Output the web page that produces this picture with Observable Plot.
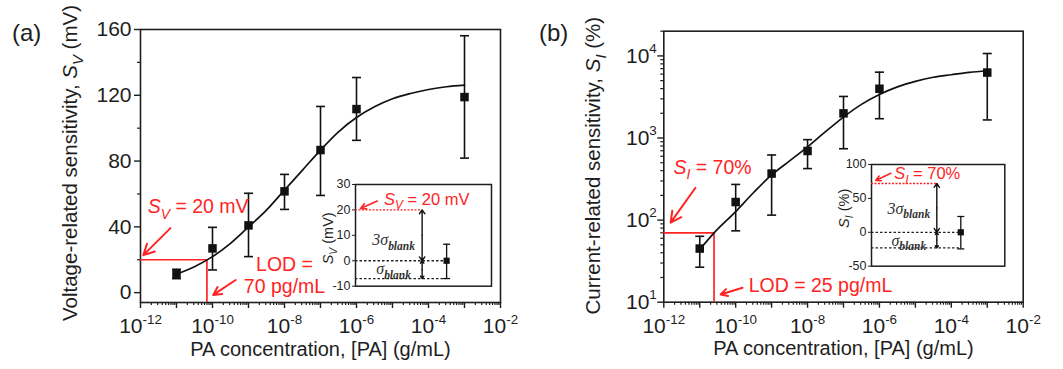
<!DOCTYPE html>
<html><head><meta charset="utf-8">
<script src="https://cdn.jsdelivr.net/npm/d3@7"></script>
<script src="https://cdn.jsdelivr.net/npm/@observablehq/plot@0.6"></script>
<style>
body{margin:0;background:#fff;}
#root{position:relative;width:1063px;height:369px;overflow:hidden;font-family:Arial,"Liberation Sans",sans-serif;color:#1e1e1e;}
#root svg{position:absolute;background:transparent !important;overflow:visible;}
.plabel{position:absolute;font-size:24px;line-height:1;color:#1e1e1e;}
</style></head><body><div id="root"></div>
<script>
// ---------------- data: panel (a) ----------------
const concA = [1e-11, 1e-10, 1e-9, 1e-8, 1e-7, 1e-6, 1e-3];
const svMeanA = [11.3, 26.9, 40.9, 61.6, 86.7, 111.6, 118.9];
const svLowA  = [8.5, 13.8, 21.9, 50.6, 59.1, 92.6, 81.8];
const svHighA = [14.2, 39.7, 60.4, 71.9, 113.2, 130.8, 156.2];
const fitLogConcA = [-11, -10.5, -10, -9.5, -9, -8.5, -8, -7.5, -7, -6.5, -6, -5.5, -5, -4.5, -4, -3.5, -3];
const fitSvA = [11.3, 15.8, 21.9, 30, 40, 50.2, 62.4, 74.5, 86.7, 97.8, 106.5, 113, 117.9, 121.1, 123.5, 125.2, 126.2];
const lodA = 7e-11, thresholdA = 20;
const yTicksA = [0, 40, 80, 120, 160];
const yMinorA = [20, 60, 100, 140];
// inset (a): blank measurement
const blankMeanA = 0, blankLowA = -7, blankHighA = 6.5, blankSigmaA = -7, blankThreeSigmaA = 20;
const insetTicksA = [-10, 0, 10, 20, 30];

// ---------------- data: panel (b) ----------------
const concB = [1e-11, 1e-10, 1e-9, 1e-8, 1e-7, 1e-6, 1e-3];
const siMeanB = [45, 166, 369, 695, 1995, 3981, 6270];
const siLowB  = [26.7, 74, 115, 424, 740, 1718, 1660];
const siHighB = [63.5, 272, 621, 955, 3208, 6340, 10700];
const fitLogConcB = [-11, -10.6, -10, -9.5, -9, -8.5, -8, -7.5, -7, -6.5, -6, -5.5, -5, -4.5, -4, -3.5, -3];
const fitSiB = [44, 70, 127, 217, 355, 526, 780, 1194, 1800, 2570, 3390, 4200, 4900, 5500, 5900, 6300, 6600];
const lodB = 2.5e-11, thresholdB = 70;
const yTicksB = [10, 100, 1000, 10000];
// inset (b)
const blankMeanB = 0, blankLowB = -24.5, blankHighB = 23.3, blankSigmaB = -23, blankThreeSigmaB = 72;
const insetTicksB = [-50, 0, 50, 100];

// ---------------- shared axis tick values ----------------
const xDecades = [-12, -11, -10, -9, -8, -7, -6, -5, -4, -3, -2];
const xLabelExps = [-12, -10, -8, -6, -4, -2];

// ---------------- text ----------------
const xTitle = "PA concentration, [PA] (g/mL)";
const yTitleA = "Voltage-related sensitivity, *S*_{V} (mV)";
const yTitleB = "Current-related sensitivity, *S*_{I} (%)";

const RED = "#ff2424", INK = "#1e1e1e";
const FONT = 'Arial, "Liberation Sans", sans-serif';
const SERIF = '"Liberation Serif", "DejaVu Serif", serif';

const capSymbol = (w) => ({draw(ctx) { ctx.moveTo(-w, 0); ctx.lineTo(w, 0); }});
const minorLog = (lo, hi) => { const out = []; for (let e = lo; e < hi; e++) for (let m = 2; m <= 9; m++) out.push(m * 10 ** e); return out; };
const supFmt = d => `10^{${Math.round(Math.log10(d))}}`;

function rows(conc, m, lo, hi) { return conc.map((c, i) => ({c, m: m[i], lo: lo[i], hi: hi[i]})); }

function mainPlot(o) {
  const pts = rows(o.conc, o.mean, o.low, o.high);
  const fit = o.fitLog.map((e, i) => ({c: 10 ** e, v: o.fit[i]}));
  return Plot.plot({
    width: o.width, height: 369,
    marginLeft: o.ml, marginRight: o.mr, marginTop: o.mt, marginBottom: o.mb,
    x: {type: "log", domain: [1e-12, 1e-2]},
    y: o.y,
    style: {fontFamily: FONT, background: "transparent", color: INK},
    marks: [
      Plot.frame({stroke: INK, strokeWidth: 1.6}),
      Plot.axisX({ticks: xDecades.map(e => 10 ** e), tickSize: 6, tickPadding: 10, fontSize: 21, label: null,
        tickFormat: d => xLabelExps.includes(Math.round(Math.log10(d))) ? supFmt(d) : "", strokeWidth: 1.4}),
      Plot.axisX({ticks: minorLog(-12, -2), tickSize: 3, tickFormat: () => "", label: null, strokeWidth: 1.2}),
      Plot.axisY({ticks: o.yTicks, tickSize: 6, tickPadding: o.yPad, fontSize: 21, label: null, tickFormat: o.yFmt, strokeWidth: 1.4}),
      Plot.axisY({ticks: o.yMinor, tickSize: 3, tickFormat: () => "", label: null, strokeWidth: 1.2}),
      // threshold / LOD guide lines
      Plot.ruleY([o.thr], {x1: 1e-12, x2: o.lod, stroke: RED, strokeWidth: 1.7}),
      Plot.ruleX([o.lod], {y1: o.thr, y2: o.y.domain[0], stroke: RED, strokeWidth: 1.7}),
      // fit curve
      Plot.line(fit, {x: "c", y: "v", curve: "monotone-x", stroke: "#111", strokeWidth: 1.7}),
      // error bars
      Plot.ruleX(pts, {x: "c", y1: "lo", y2: "hi", stroke: "#111", strokeWidth: 1.6}),
      Plot.dot(pts, {x: "c", y: "lo", symbol: capSymbol(4.5), fill: "none", stroke: "#111", strokeWidth: 1.6}),
      Plot.dot(pts, {x: "c", y: "hi", symbol: capSymbol(4.5), fill: "none", stroke: "#111", strokeWidth: 1.6}),
      Plot.dot(pts, {x: "c", y: "m", symbol: "square", r: 4.8, fill: "#111", stroke: null}),
      // red annotations
      Plot.arrow(o.arrows, {x1: "x1", y1: "y1", x2: "x2", y2: "y2", stroke: RED, strokeWidth: 2, headLength: 9, headAngle: 55}),
      Plot.text(o.labelsStart, {x: "x", y: "y", text: "t", textAnchor: "start", fill: RED, fontSize: 19.5}),
      Plot.text(o.labelsMiddle, {x: "x", y: "y", text: "t", textAnchor: "middle", fill: RED, fontSize: 19.5}),
      // titles
      Plot.text([xTitle], {frameAnchor: "bottom", dy: 53, fontSize: 20, fill: INK}),
      Plot.text([o.yTitle], {frameAnchor: "left", textAnchor: "middle", dx: -70, dy: o.yTitleDy, rotate: -90, fontSize: 20.5, fill: INK})
    ]
  });
}

function insetPlot(o) {
  const mid = (a, b) => (a + b) / 2;
  const ax = 0.49, px = 0.67;
  const arrows = [
    {x1: ax, y1: mid(o.mean, o.three), x2: ax, y2: o.three},
    {x1: ax, y1: mid(o.mean, o.three), x2: ax, y2: o.mean},
    {x1: ax, y1: mid(o.mean, o.sig), x2: ax, y2: o.mean},
    {x1: ax, y1: mid(o.mean, o.sig), x2: ax, y2: o.sig}
  ];
  return Plot.plot({
    width: o.width, height: o.height, marginLeft: 60, marginRight: 5, marginTop: 5, marginBottom: 5,
    x: {domain: [0, 1], axis: null}, y: {domain: o.domain},
    style: {fontFamily: FONT, background: "transparent", color: INK},
    marks: [
      Plot.frame({fill: "white", stroke: INK, strokeWidth: 1.5}),
      Plot.axisY({ticks: o.ticks, tickSize: 3, tickPadding: 2, fontSize: 12.5, label: null, tickFormat: d => String(d)}),
      Plot.ruleY([o.three], {x1: 0, x2: ax, stroke: RED, strokeWidth: 1.3, strokeDasharray: "2,1.5"}),
      Plot.ruleY([o.mean, o.sig], {x1: 0, x2: px, stroke: "#222", strokeWidth: 1.3, strokeDasharray: "2.5,2"}),
      Plot.arrow(arrows, {x1: "x1", y1: "y1", x2: "x2", y2: "y2", stroke: "#111", strokeWidth: 1.4, headLength: 5, headAngle: 70}),
      Plot.ruleX([0], {x: px, y1: o.low, y2: o.high, stroke: "#111", strokeWidth: 1.3}),
      Plot.dot([o.low, o.high], {x: px, y: d => d, symbol: capSymbol(3.5), fill: "none", stroke: "#111", strokeWidth: 1.3}),
      Plot.dot([o.mean], {x: px, y: d => d, symbol: "square", r: 3.5, fill: "#111", stroke: null}),
      Plot.arrow([o.redArrow], {x1: "x1", y1: "y1", x2: "x2", y2: "y2", stroke: RED, strokeWidth: 1.6, headLength: 6, headAngle: 55}),
      Plot.text([o.redLabel], {x: "x", y: "y", text: "t", textAnchor: "start", fill: RED, fontSize: 16.5}),
      Plot.text(o.sigmaLabels, {x: "x", y: "y", text: "t", fontSize: 16, fontFamily: SERIF, fontStyle: "italic", fill: "#333"}),
      Plot.text([o.yTitle], {frameAnchor: "left", textAnchor: "middle", dx: -27, dy: o.yTitleDy, rotate: -90, fontSize: 14.5, fill: INK})
    ]
  });
}

// ---------- rich-text (super/subscript, italic) ----------
const re = /(\^\{[^}]*\}|_\{[^}]*\}|\*[^*]*\*|[^^_*]+)/g;
function richify(svg) {
  d3.select(svg).selectAll("text").each(function () {
    const t = this.textContent;
    if (t === "") { this.remove(); return; }
    if (!/\^\{|_\{|\*/.test(t)) return;
    const fs = parseFloat(getComputedStyle(this).fontSize) || 16;
    this.textContent = "";
    let shift = 0;
    for (const m of t.matchAll(re)) {
      let tok = m[0], target = 0, size = null, italic = false, bold = false;
      if (tok.startsWith("^{")) { tok = tok.slice(2, -1); target = -0.45 * fs; size = 0.64 * fs; }
      else if (tok.startsWith("_{")) { tok = tok.slice(2, -1); target = 0.28 * fs; size = 0.72 * fs; italic = true;
        if (tok.startsWith("!")) { tok = tok.slice(1); bold = true; } }
      else if (tok.startsWith("*")) { tok = tok.slice(1, -1); italic = true; }
      const ts = document.createElementNS("http://www.w3.org/2000/svg", "tspan");
      const d = target - shift;
      if (d !== 0) ts.setAttribute("dy", d.toFixed(2));
      shift = target;
      if (size) ts.setAttribute("font-size", size.toFixed(1));
      if (italic) ts.setAttribute("font-style", "italic");
      if (bold) ts.setAttribute("font-weight", "bold");
      ts.textContent = tok;
      this.appendChild(ts);
    }
  });
}

const root = document.getElementById("root");
function place(svg, left, top) { svg.style.left = left + "px"; svg.style.top = top + "px"; root.appendChild(svg); richify(svg); }

// panel (a)
place(mainPlot({
  width: 530, ml: 140, mr: 30, mt: 29, mb: 67,
  y: {domain: [-6, 160]}, yTicks: yTicksA, yMinor: yMinorA, yPad: 3, yFmt: d => String(d),
  conc: concA, mean: svMeanA, low: svLowA, high: svHighA, fitLog: fitLogConcA, fit: fitSvA,
  thr: thresholdA, lod: lodA, yTitle: yTitleA, yTitleDy: -3,
  arrows: [{x1: 6.8e-12, y1: 39.2, x2: 1.2e-12, y2: 22.8}, {x1: 4.4e-10, y1: 7.7, x2: 1.05e-10, y2: -1.4}],
  labelsStart: [{x: 1.58e-12, y: 52, t: "*S*_{V} = 20 mV"}],
  labelsMiddle: [{x: 1e-8, y: 16.8, t: "LOD ="}, {x: 1e-8, y: 3.5, t: "70 pg/mL"}]
}), 0, 0);

// panel (b)
place(mainPlot({
  width: 533, ml: 133.3, mr: 40.3, mt: 30.7, mb: 67.3,
  y: {type: "log", domain: [10, 2e4]}, yTicks: yTicksB, yMinor: minorLog(1, 4).concat([20000]), yPad: 1, yFmt: supFmt,
  conc: concB, mean: siMeanB, low: siLowB, high: siHighB, fitLog: fitLogConcB, fit: fitSiB,
  thr: thresholdB, lod: lodB, yTitle: yTitleB, yTitleDy: -1,
  arrows: [{x1: 7.6e-12, y1: 248, x2: 1.55e-12, y2: 93}, {x1: 1.55e-10, y1: 15, x2: 3.8e-11, y2: 12.4}],
  labelsStart: [{x: 1.86e-12, y: 436, t: "*S*_{I} = 70%"}, {x: 2.3e-10, y: 16, t: "LOD = 25 pg/mL"}],
  labelsMiddle: []
}), 530, 0);

// inset (a)
place(insetPlot({
  width: 201, height: 111.7, domain: [-10, 30], ticks: insetTicksA,
  mean: blankMeanA, low: blankLowA, high: blankHighA, sig: blankSigmaA, three: blankThreeSigmaA,
  redArrow: {x1: 0.16, y1: 23.5, x2: 0.037, y2: 20.6},
  redLabel: {x: 0.21, y: 24.1, t: "*S*_{V} = 20 mV"},
  sigmaLabels: [{x: 0.28, y: 8.1, t: "3σ_{!blank}"}, {x: 0.28, y: -3.2, t: "σ_{!blank}"}],
  yTitle: "*S*_{V} (mV)", yTitleDy: 3
}), 295, 179.3);

// inset (b)
place(insetPlot({
  width: 198.3, height: 111.7, domain: [-50, 100], ticks: insetTicksB,
  mean: blankMeanB, low: blankLowB, high: blankHighB, sig: blankSigmaB, three: blankThreeSigmaB,
  redArrow: {x1: 0.145, y1: 87, x2: 0.032, y2: 76.4},
  redLabel: {x: 0.17, y: 86, t: "*S*_{I} = 70%"},
  sigmaLabels: [{x: 0.28, y: 34.6, t: "3σ_{!blank}"}, {x: 0.28, y: -12, t: "σ_{!blank}"}],
  yTitle: "*S*_{I} (%)", yTitleDy: -7
}), 810.7, 159);

// panel letters
for (const [t, l] of [["(a)", 12], ["(b)", 539]]) {
  const d = document.createElement("div"); d.className = "plabel"; d.textContent = t;
  d.style.left = l + "px"; d.style.top = "21px"; root.appendChild(d);
}
</script></body></html>
